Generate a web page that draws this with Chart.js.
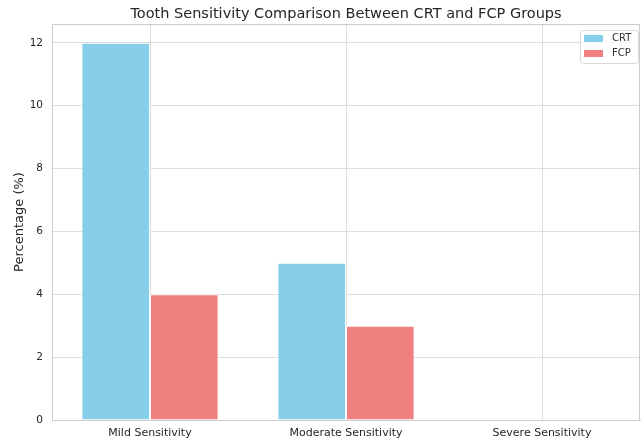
<!DOCTYPE html>
<html>
<head>
<meta charset="utf-8">
<script src="https://cdn.jsdelivr.net/npm/chart.js@4"></script>
<style>
  html, body { margin: 0; padding: 0; background: #fff; }
  #wrap { width: 641px; height: 441px; }
</style>
</head>
<body>
<div id="wrap"><canvas id="chart" width="641" height="441"></canvas></div>
<script>
const categories = ['Mild Sensitivity', 'Moderate Sensitivity', 'Severe Sensitivity'];
const crtValues = [12, 5, 0];
const fcpValues = [4, 3, 0];
const yTicks = [0, 2, 4, 6, 8, 10, 12];
const chartTitle = 'Tooth Sensitivity Comparison Between CRT and FCP Groups';

// frame, title over the plot and a legend box in the top right, like matplotlib
const boxLegend = {
  id: 'boxLegend',
  afterDraw(chart) {
    const ctx = chart.ctx;
    const area = chart.chartArea;
    const sets = chart.data.datasets;
    ctx.save();
    ctx.strokeStyle = '#cccccc';
    ctx.lineWidth = 1;
    ctx.strokeRect(Math.round(area.left) + 0.5, Math.round(area.top) + 0.5,
      Math.round(area.right - area.left) - 1, Math.round(area.bottom - area.top));

    ctx.fillStyle = '#262626';
    ctx.font = '14.5px "DejaVu Sans"';
    ctx.textAlign = 'center';
    ctx.textBaseline = 'middle';
    ctx.fillText(chartTitle, (area.left + area.right) / 2, 14);

    const w = 58, h = 33;
    const x = Math.round(area.right) - 60, y = Math.round(area.top) + 6;
    ctx.fillStyle = 'rgba(255,255,255,0.8)';
    ctx.strokeStyle = '#d8d8d8';
    ctx.beginPath();
    ctx.roundRect(x + 0.5, y + 0.5, w, h, 3);
    ctx.fill();
    ctx.stroke();
    ctx.font = '10px "DejaVu Sans"';
    ctx.textAlign = 'left';
    sets.forEach((ds, i) => {
      const ry = y + 8 + i * 15;
      ctx.fillStyle = ds.backgroundColor;
      ctx.fillRect(x + 4, ry - 3, 19, 7);
      ctx.fillStyle = '#333';
      ctx.fillText(ds.label, x + 32, ry);
    });
    ctx.restore();
  }
};

new Chart(document.getElementById('chart').getContext('2d'), {
  type: 'bar',
  data: {
    labels: categories,
    datasets: [
      { label: 'CRT', data: crtValues, backgroundColor: '#87CEEB', borderColor: '#ffffff', borderWidth: 1,
        categoryPercentage: 0.7, barPercentage: 1.0 },
      { label: 'FCP', data: fcpValues, backgroundColor: '#F08080', borderColor: '#ffffff', borderWidth: 1,
        categoryPercentage: 0.7, barPercentage: 1.0 }
    ]
  },
  options: {
    responsive: false,
    animation: false,
    layout: { padding: { left: 0, right: 1, top: 24, bottom: 0 } },
    plugins: {
      legend: { display: false },
      tooltip: { enabled: false },
      title: { display: false }
    },
    scales: {
      x: {
        afterFit(scale) { scale.height = 21; },
        grid: { offset: false, color: '#dddddd', drawTicks: false },
        border: { color: '#cccccc' },
        ticks: { color: '#262626', font: { family: 'DejaVu Sans', size: 11 }, padding: 7 }
      },
      y: {
        min: 0,
        max: 12.6,
        afterBuildTicks(scale) { scale.ticks = yTicks.map(v => ({ value: v })); },
        afterFit(scale) { scale.width = 52; },
        grid: { color: '#dddddd', drawTicks: false },
        border: { color: '#cccccc' },
        ticks: { color: '#262626', font: { family: 'DejaVu Sans', size: 10.5 }, padding: 9 },
        title: {
          display: true,
          text: 'Percentage (%)',
          color: '#262626',
          font: { family: 'DejaVu Sans', size: 13 },
          padding: { top: 12, bottom: 0 }
        }
      }
    }
  },
  plugins: [boxLegend]
});
</script>
</body>
</html>
